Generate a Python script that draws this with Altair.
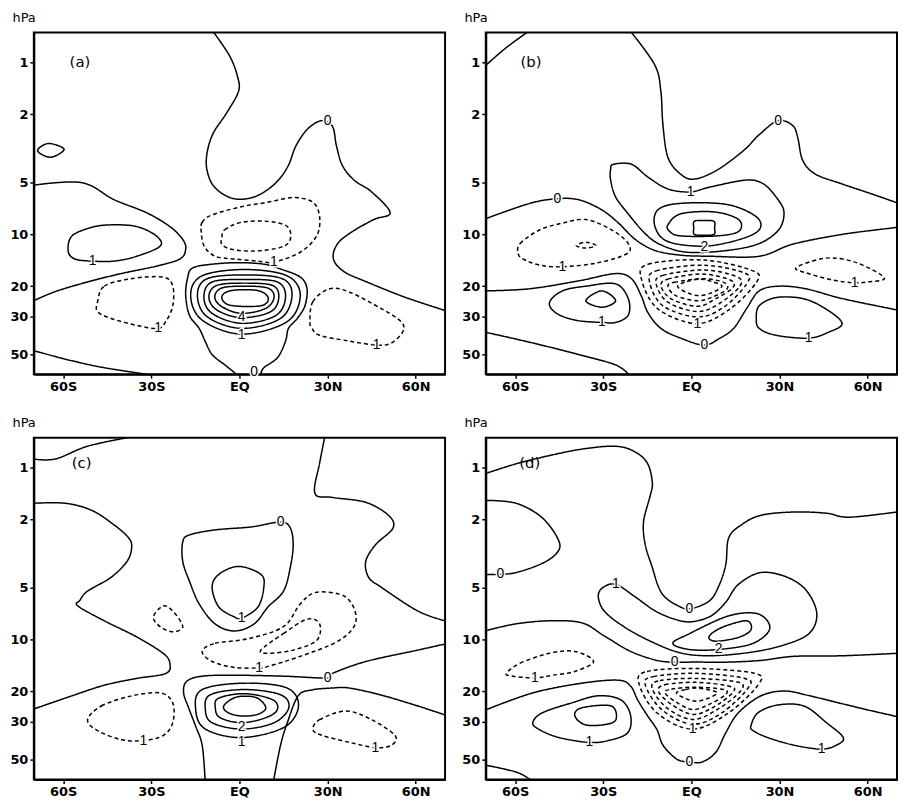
import altair as alt
import pandas as pd

LAT_DOMAIN = [-70, 70]
P_DOMAIN = [0.67, 65]
LAT_TICKS = [-60, -30, 0, 30, 60]
P_TICKS = [1, 2, 5, 10, 20, 30, 50]

# ---------------- panel (a) : contour paths (lat, hPa) ----------------
a_zero_top = [(-8.7, 0.67), (-3.3, 0.92), (-0.7, 1.20), (-0.3, 1.47), (-4.3, 1.96), (-9.3, 2.66),
              (-11.3, 3.71), (-10, 4.83), (-6.7, 5.66), (-1.7, 6.21), (4, 6.13), (9, 5.58),
              (13.3, 4.83), (16.7, 3.96), (19.3, 3.04), (23.3, 2.43), (28, 2.18), (31.7, 2.36),
              (33, 3.04), (35, 3.96), (39, 4.83), (45, 5.66), (51.3, 7.47), (45.7, 8.2),
              (38, 9.74), (33.3, 11.4), (32, 13.9), (35.7, 16.5), (44, 19.1), (54, 22.4),
              (60.7, 24.6), (70, 27.7)]
a_pos_lens = [(-68.7, 3.26), (-65, 2.96), (-59.7, 3.2), (-64.3, 3.56)]
a_zero_left = [(-70, 5.17), (-53.7, 5.0), (-42.7, 6.28), (-31.7, 7.47), (-23.7, 9.0), (-19.3, 10.7),
               (-18.3, 12.2), (-20.3, 13.9), (-28.3, 15.3), (-40.3, 16.9), (-51.7, 18.9),
               (-62.7, 21.5), (-70, 24.3)]
a_pos_left = [(-57, 10.2), (-50.3, 9.1), (-43.7, 8.8), (-35, 9.0), (-28.3, 10.2), (-27, 11.7),
              (-35, 13.4), (-42.7, 14.3), (-50, 14.3), (-56, 13.9), (-58.3, 12.5)]
a_zero_bl = [(-70, 47.5), (-57, 54.3), (-46, 59.6), (-31.7, 65)]
a_neg_left = [(-48.3, 24.6), (-46, 20), (-37, 18.1), (-26, 17.7), (-22.7, 20), (-22.7, 26),
              (-25, 32), (-27.7, 35.2), (-35, 33.8), (-43.7, 30.8), (-48.3, 28.1)]
a_neg_eq1 = [(-13, 9.7), (-12.7, 8.5), (-9.3, 7.7), (0.7, 6.9), (9.7, 6.5), (18.3, 6.1), (25, 6.5),
             (27.3, 7.9), (26.3, 10.2), (20.7, 12.7), (11.7, 14.5), (6.3, 14.3), (-1.7, 13.9),
             (-8.3, 13.4), (-12, 11.7)]
a_neg_eq2 = [(-6, 10.4), (-5, 9.4), (0.7, 8.5), (9.7, 8.4), (16.3, 9.0), (17.3, 10.7), (14, 11.9),
             (5, 12.5), (-2.7, 12.2), (-6, 11.4)]
a_zero_eq = [(-1, 65), (-5, 57.3), (-9.3, 50), (-11.7, 41.7), (-13.7, 35.2), (-17, 29.6),
             (-18.3, 22.7), (-17.7, 18.1), (-16, 15.7), (-9.3, 14.9), (-0.3, 14.6), (8.3, 14.9),
             (14, 15.9), (20.7, 17.7), (23, 20.7), (22.3, 26), (19.7, 30.8), (16.7, 35.2),
             (15.7, 41.7), (13, 52), (8.3, 59.6), (7.3, 65)]
a_ring1 = [(-16.6, 22.6), (-12.7, 17.4), (1.8, 16.0), (16.2, 17.4), (20.7, 22.6), (16.2, 32.2),
           (0.7, 38.0), (-12.7, 31.5)]
a_ring2 = [(-14.3, 22.6), (-11, 18.1), (1.8, 17.2), (14.6, 18.1), (17.9, 22.6), (14, 30.8),
           (0.7, 35.2), (-11, 30.1)]
a_ring3 = [(-12.1, 23.1), (-9.3, 18.9), (1.8, 18.3), (12.9, 18.9), (15.7, 23.1), (12.3, 29.7),
           (0.7, 32.9), (-9.3, 28.8)]
a_ring4 = [(-10.4, 23.1), (-7.7, 19.8), (1.8, 19.2), (11.2, 19.8), (13.4, 23.1), (10.7, 28.1),
           (0.7, 30.5), (-7.7, 27.5)]
a_ring5 = [(-8.4, 23.1), (-6, 20.5), (1.8, 20.0), (9.6, 20.5), (11.8, 23.1), (9, 26.9),
           (0.7, 28.8), (-6, 26.3)]
a_ring6 = [(-6, 23.1), (-2.7, 21.2), (6.2, 21.2), (9.8, 23.4), (7.3, 26.0), (-3.2, 25.8)]
a_neg_right = [(24, 32.1), (25, 24.6), (30.7, 20.7), (37.3, 21.6), (48.3, 27), (55, 32.1),
               (55.7, 36.6), (51.7, 42.9), (46.7, 44), (37.3, 41.7), (27.3, 38.6), (24.7, 35.2)]

# ---------------- panel (b) ----------------
b_corner = [(-70, 1.04), (-63.4, 0.83), (-56, 0.67)]
b_zero_top = [(-20.4, 0.67), (-12.4, 1.04), (-10.4, 1.47), (-9.7, 2.30), (-8, 3.56), (-3.7, 4.46),
              (1, 4.77), (8.7, 4.23), (17.8, 3.25), (23.1, 2.63), (29.5, 2.18), (34.5, 2.33),
              (36.2, 2.73), (37.9, 3.71), (42.2, 4.46), (51.3, 5.09), (61.3, 5.81), (70, 6.55)]
b_pos1 = [(-26.5, 3.91), (-20.4, 3.91), (-14.8, 4.64), (-8, 5.44), (-0.3, 5.66), (6.4, 5.30),
          (18.8, 4.83), (24.5, 5.09), (28.8, 6.05), (31.5, 7.37), (29.8, 9.36), (23.1, 11.3),
          (12.1, 12.4), (-1.3, 12.7), (-10.4, 11.5), (-15.8, 9.87), (-21.5, 7.6), (-25.8, 6.05),
          (-27.5, 4.83), (-27.5, 4.17)]
b_pos2 = [(-12.4, 9.0), (-11.4, 7.2), (-3.7, 6.6), (12.1, 6.7), (22.1, 7.9), (23.1, 9.4),
          (16.4, 10.7), (4.4, 11.7), (-8, 11.0)]
b_pos3 = [(-7.4, 9.6), (-8, 8.8), (-3.7, 7.6), (7.7, 7.4), (16.1, 8.2), (16.1, 9.6), (8.7, 10.2),
          (-3.7, 10.2)]
b_pos4 = [(1, 8.4), (4.3, 8.3), (7.7, 8.4), (7.9, 9.2), (7.7, 10), (4.3, 10.1), (1, 10), (0.8, 9.2)]
b_zero_mid = [(-70, 8.1), (-55, 6.6), (-45.6, 6.2), (-38.2, 6.3), (-30.5, 7.2), (-24.8, 8.6),
              (-19.1, 10.7), (-12.4, 12.4), (-3.7, 13.2), (6.4, 13.4), (23.1, 13.4), (34.5, 11.4),
              (51.3, 10), (67.7, 9.2), (70, 9.1)]
b_neg_left = [(-59, 12.9), (-58.3, 11.3), (-51.6, 9.4), (-43.9, 8.6), (-35.9, 8.2), (-27.2, 9.4),
              (-21.5, 11.3), (-22.1, 13.0), (-32.5, 14.7), (-43.9, 15.4), (-51.6, 15.1),
              (-57.3, 13.9)]
b_neg_small = [(-39.2, 11.6), (-35.9, 11.1), (-32.5, 11.6), (-35.9, 12.0)]
b_neg_right = [(35.5, 15.7), (41.2, 14.3), (47.9, 13.7), (56.7, 14.7), (65.7, 17.9), (60, 18.9),
               (55.6, 19.1), (47.9, 18.4), (38.9, 16.7)]
b_zero_low = [(-70, 21.3), (-55, 20.7), (-38.2, 18.6), (-25.8, 16.9), (-20.4, 18.1), (-17.1, 22.7),
              (-14.8, 28.5), (-10.4, 35.2), (-3.7, 40.1), (4.4, 44), (9.7, 40.1), (14.4, 35.2),
              (18.8, 27), (23.1, 21.3), (29.8, 20), (38.9, 20.7), (51.3, 23.6), (67.7, 27),
              (70, 27.5)]
b_pos_ll = [(-48.3, 24.9), (-43.9, 21.3), (-35.9, 20), (-25.8, 19.4), (-21.5, 23.6), (-21.5, 29.5),
            (-25.8, 32.5), (-30.5, 32.5), (-39.2, 31.6), (-45.9, 28.8)]
b_pos_ll2 = [(-35.9, 24.3), (-30.5, 21.3), (-25.8, 24.3), (-30.5, 26.5)]
b_pos_lr = [(22.1, 30.8), (23.1, 26), (28.8, 23.3), (37.9, 23.6), (45.6, 27), (51.3, 32.9),
            (46.6, 37.1), (39.9, 40.1), (28.8, 38.6), (23.1, 35.2)]
b_zero_bl = [(-70, 37.1), (-55, 42.4), (-38.2, 50), (-25.8, 57.4), (-21.5, 65)]
b_ring1 = [(-17.0, 18.2), (-14.75, 14.9), (4.2, 14.1), (21.0, 16.3), (22.1, 19.0), (13.2, 27.1),
           (2.0, 33.0), (-11.4, 27.1)]
b_ring2 = [(-14.2, 19.0), (-12.0, 16.3), (4.2, 15.1), (18.2, 16.8), (18.8, 19.4), (11.0, 26.5),
           (2.0, 30.2), (-9.7, 26.0)]
b_ring3 = [(-12.0, 19.4), (-9.7, 17.3), (4.2, 16.1), (15.4, 17.6), (16.5, 20.0), (9.3, 25.4),
           (2.0, 28.1), (-8.0, 24.8)]
b_ring4 = [(-10.3, 20.0), (-8.0, 18.2), (3.7, 17.0), (13.2, 18.4), (14.1, 20.4), (8.2, 23.7),
           (2.0, 26.2), (-6.9, 23.7)]
b_ring5 = [(-8.0, 20.0), (-5.8, 19.0), (3.7, 18.1), (11.0, 19.0), (12.1, 20.8), (7.0, 23.2),
           (2.0, 24.3), (-5.3, 22.7)]
b_ring6 = [(-4.7, 20.0), (-1.5, 18.8), (3.1, 18.2), (7, 18.8), (10.4, 20.0), (7, 21.8),
           (2.6, 22.7), (-1.5, 21.8)]

# ---------------- panel (c) ----------------
c_corner = [(-70, 0.89), (-62.7, 0.89), (-51.7, 0.75), (-38.3, 0.67)]
c_left = [(-70, 1.61), (-59.3, 1.61), (-50.3, 1.77), (-42.7, 2.15), (-37.7, 2.56), (-36.7, 2.92),
          (-38.3, 3.51), (-43.7, 4.34), (-51.7, 5.22), (-54.3, 5.9), (-55, 6.37), (-46, 7.77),
          (-35, 9.63), (-26, 12.0), (-23.7, 13.7), (-25, 15.7), (-35, 16.8), (-46, 18.4),
          (-57, 21.2), (-70, 25.3)]
c_right_top = [(29, 0.67), (27.3, 0.94), (25.7, 1.41), (31.7, 1.49), (43, 1.59), (50.7, 1.89),
               (52.3, 2.24), (46.3, 2.81), (43, 3.51), (44, 4.34), (48.3, 4.96), (60.7, 6.81),
               (70, 7.77)]
c_zero_loop = [(-19.3, 2.70), (-17, 2.46), (-8.3, 2.30), (4, 2.21), (14, 2.07), (17.3, 2.24),
               (18.3, 2.81), (17.3, 3.81), (15, 5.22), (9.7, 6.46), (5, 8.1), (-1.7, 8.9),
               (-8.3, 8.1), (-13.7, 6.2), (-17, 4.58), (-19.3, 3.51)]
c_pos1 = [(-9.3, 4.96), (-7, 6.46), (-1.7, 7.38), (0.7, 7.5), (6.3, 6.46), (8.3, 4.96),
          (7.3, 4.17), (-0.3, 3.75), (-7, 4.17)]
c_neg_small = [(-29.3, 7.38), (-26, 6.37), (-22.7, 6.81), (-19.3, 8.4), (-22.7, 9.0), (-27, 8.4)]
c_neg1 = [(-12.7, 11.7), (-8.3, 10.5), (3, 9.87), (15, 8.4), (20.7, 6.2), (26.3, 5.3),
          (36.3, 5.66), (39.7, 7.77), (34, 10.1), (20.7, 12.5), (9.7, 14.3), (6.7, 14.6),
          (-1.7, 14.5), (-9.3, 13.4)]
c_neg2 = [(7.3, 11.5), (15, 9.2), (23, 7.6), (27.3, 8.1), (26.3, 10.1), (18.3, 11.5), (9.7, 12.0)]
c_zero_a = [(70, 10.6), (60.7, 11.5), (43, 13.4), (31.7, 15.7), (30, 16.7), (15, 16.3),
            (-1.7, 16.1), (-12.7, 16.3), (-18, 17.5), (-19, 20.4), (-17.3, 24.9), (-15, 31.6),
            (-12.7, 41), (-11.7, 65)]
c_zero_b = [(11.7, 65), (14, 41), (16.3, 30.4), (20, 21.2), (24.7, 19.6), (31.7, 19.1),
            (37.3, 19.1), (48.3, 21.0), (60.7, 24.3), (70, 27.4)]
c_ring1 = [(-14.9, 25.5), (-12.7, 19.5), (1.8, 17.9), (16.2, 19.1), (20.1, 24.4), (15.1, 32.4),
           (0.7, 37.1), (-11.6, 33.1)]
c_ring2 = [(-11.6, 25.5), (-9.9, 20.9), (1.8, 19.5), (14.0, 20.9), (16.8, 24.9), (11.8, 30.4),
           (0.7, 33.1), (-9.3, 30.4)]
c_ring3 = [(-8.2, 24.9), (-7.1, 21.9), (1.8, 20.6), (11.2, 22.3), (12.9, 25.5), (9.0, 28.4),
           (0.7, 30.4), (-6.6, 28.4)]
c_ring4 = [(-5.4, 24.4), (-2.1, 21.9), (1.8, 21.3), (6.2, 21.9), (9.0, 24.9), (6.2, 27.2),
           (0.7, 27.8), (-3.8, 26.6)]
c_neg_ll = [(-51.7, 29.2), (-47, 24.3), (-37, 21.3), (-27, 20.4), (-22.7, 23.3), (-22.7, 30.4),
            (-26, 36.1), (-32.7, 38.6), (-40.3, 38.1), (-48.3, 33.8)]
c_neg_lr = [(25, 33.4), (27.3, 29.2), (36.3, 26), (45, 29.2), (53, 36.1), (51.7, 41.1),
            (46.3, 42.4), (37.3, 39.5), (28.3, 36.1)]

# ---------------- panel (d) ----------------
d_zero_top = [(-70, 1.08), (-59.7, 0.95), (-48.3, 0.85), (-37.3, 0.78), (-26.3, 0.75), (-19.7, 0.80),
              (-15, 0.94), (-13.3, 1.22), (-14, 1.45), (-16.3, 2.07), (-15.7, 2.81), (-13.3, 3.81),
              (-11.3, 4.89), (-9, 5.66), (-5, 6.29), (-0.7, 6.62), (6, 5.97), (9.3, 4.89),
              (11.7, 3.66), (12.7, 2.56), (17, 2.15), (23.7, 1.89), (35, 1.81), (46, 1.84),
              (53.7, 1.94), (70, 1.81)]
d_zero_left = [(-70, 1.55), (-59.7, 1.61), (-50.7, 1.96), (-45, 2.70), (-46.3, 3.20), (-51.7, 3.66),
               (-59.7, 4.07), (-65, 4.17), (-70, 4.17)]
d_pos1 = [(-25.7, 4.77), (-19, 5.66), (-12.3, 6.81), (-5.7, 7.6), (0, 7.87), (6.7, 7.27),
          (11.7, 6.05), (16, 4.77), (23.7, 4.07), (32.7, 4.34), (39.3, 5.22), (42.7, 7.08),
          (40, 9.23), (31, 10.8), (19.3, 11.9), (6, 12.4), (-4, 11.9), (-14, 10.2), (-23, 8.4),
          (-29.7, 6.81), (-31.7, 5.58), (-30, 4.96)]
d_pos2 = [(-6.3, 10.5), (-0.7, 9.23), (12.7, 7.27), (22.7, 7.08), (26.7, 8.6), (21, 10.5),
          (9.3, 11.4), (-0.7, 11.4)]
d_pos3 = [(6, 9.6), (10.3, 8.5), (18.7, 7.77), (20.3, 8.76), (16, 9.7), (8.3, 10.2)]
d_zero_mid = [(-70, 8.87), (-59.7, 8.09), (-48.3, 7.77), (-37.3, 7.98), (-29.7, 9.5), (-20.7, 11.7),
              (-11.7, 13.2), (-5.7, 13.5), (1.7, 13.5), (12.7, 13.5), (23.7, 13.2), (35, 12.5),
              (51.7, 12.4), (70, 12.0)]
d_neg_left = [(-63, 15.7), (-58.3, 13.7), (-48.3, 12.0), (-39.7, 11.7), (-33.3, 13.4), (-39.7, 15.3),
              (-47.3, 16.1), (-53.3, 16.7), (-60.7, 16.3)]
d_ring1 = [(-17.9, 17.9), (-15.1, 15.3), (1.6, 14.7), (21.6, 15.7), (22.7, 18.3), (12.7, 26.6),
           (0.4, 33.1), (-11.8, 26.6)]
d_ring2 = [(-15.7, 18.3), (-12.9, 16.4), (1.6, 15.7), (18.2, 16.8), (19.3, 19.1), (10.4, 26.6),
           (0.4, 31.0), (-10.1, 25.5)]
d_ring3 = [(-13.4, 19.1), (-10.7, 17.3), (1.6, 16.8), (16.0, 17.7), (16.6, 20.0), (8.8, 25.5),
           (0.4, 29.1), (-8.4, 24.9)]
d_ring4 = [(-11.2, 20.0), (-9.0, 18.3), (1.6, 17.7), (13.2, 18.7), (14.0, 20.4), (7.1, 24.9),
           (0.4, 27.2), (-6.8, 23.8)]
d_ring5 = [(-9.0, 20.4), (-6.8, 19.4), (1.6, 18.9), (11.0, 19.5), (11.6, 20.9), (6.0, 23.8),
           (0.4, 25.5), (-5.1, 23.1)]
d_ring6 = [(-5.1, 20.4), (-2, 19.5), (1.6, 19.1), (5.5, 19.5), (8.8, 20.4), (5.5, 22),
           (1.6, 22.8), (-2, 22)]
d_zero_low = [(-70, 25.6), (-54, 20.4), (-37.3, 17.9), (-25, 17.2), (-20.7, 18.6), (-18.3, 22.4),
              (-15, 27.6), (-11.7, 33.4), (-9.7, 41), (-5, 49.5), (-0.7, 51.4), (3.7, 51.4),
              (8.3, 45.2), (11.7, 34.8), (16, 26.6), (23.7, 21.2), (31.7, 19.9), (40.3, 21.2),
              (57, 24.9), (70, 28)]
d_pos_ll = [(-54, 30.4), (-50.7, 26.6), (-40.7, 23.3), (-31.7, 21.2), (-24, 22.4), (-20.7, 27.6),
            (-21.7, 34.8), (-28.3, 38.6), (-34.7, 39.6), (-45, 37.1), (-51.7, 33.4)]
d_pos_ll2 = [(-39.7, 27.6), (-37.3, 24.9), (-27.3, 24.3), (-25.7, 29.2), (-29.7, 31.2), (-36.3, 31.2)]
d_pos_lr = [(20.3, 31.6), (22.7, 26.6), (29.3, 24.0), (38.3, 24.3), (46, 30.4), (51.7, 37.1),
            (49.3, 41.1), (44.3, 43.3), (35, 41.1), (26, 37.1), (21, 33.8)]
d_zero_bl = [(-70, 53.7), (-59.7, 58.8), (-55, 65)]

# (contour value, closed?, path)
PANELS = {
    "a": [(0, False, a_zero_top), (1, True, a_pos_lens), (0, False, a_zero_left),
          (1, True, a_pos_left), (0, False, a_zero_bl), (-1, True, a_neg_left),
          (-1, True, a_neg_eq1), (-2, True, a_neg_eq2), (0, False, a_zero_eq),
          (1, True, a_ring1), (2, True, a_ring2), (3, True, a_ring3), (4, True, a_ring4),
          (5, True, a_ring5), (6, True, a_ring6), (-1, True, a_neg_right)],
    "b": [(0, False, b_corner), (0, False, b_zero_top), (1, True, b_pos1), (2, True, b_pos2),
          (3, True, b_pos3), (4, True, b_pos4), (0, False, b_zero_mid), (-1, True, b_neg_left),
          (-2, True, b_neg_small), (-1, True, b_neg_right), (0, False, b_zero_low),
          (1, True, b_pos_ll), (2, True, b_pos_ll2), (1, True, b_pos_lr), (0, False, b_zero_bl),
          (-1, True, b_ring1), (-2, True, b_ring2), (-3, True, b_ring3), (-4, True, b_ring4),
          (-5, True, b_ring5), (-6, True, b_ring6)],
    "c": [(0, False, c_corner), (0, False, c_left), (0, False, c_right_top), (0, True, c_zero_loop),
          (1, True, c_pos1), (-1, True, c_neg_small), (-1, True, c_neg1), (-2, True, c_neg2),
          (0, False, c_zero_a), (0, False, c_zero_b), (1, True, c_ring1), (2, True, c_ring2),
          (3, True, c_ring3), (4, True, c_ring4), (-1, True, c_neg_ll), (-1, True, c_neg_lr)],
    "d": [(0, False, d_zero_top), (0, False, d_zero_left), (1, True, d_pos1), (2, True, d_pos2),
          (3, True, d_pos3), (0, False, d_zero_mid), (-1, True, d_neg_left),
          (-1, True, d_ring1), (-2, True, d_ring2), (-3, True, d_ring3), (-4, True, d_ring4),
          (-5, True, d_ring5), (-6, True, d_ring6), (0, False, d_zero_low), (1, True, d_pos_ll),
          (2, True, d_pos_ll2), (1, True, d_pos_lr), (0, False, d_zero_bl)],
}

LABELS = {
    "a": [(30, 2.2, "0"), (-50, 14.3, "1"), (11.7, 14.5, "1"), (-27.7, 35.2, "1"),
          (0.7, 30.2, "4"), (0.7, 38.6, "1"), (5, 63, "0"), (46.7, 44, "1")],
    "b": [(29.5, 2.18, "0"), (-45.6, 6.2, "0"), (-0.3, 5.66, "1"), (4.4, 11.8, "2"),
          (-43.9, 15.4, "1"), (55.6, 19.1, "1"), (-30.5, 32.5, "1"), (39.9, 40.1, "1"),
          (2.0, 33.0, "1"), (4.4, 44, "0")],
    "c": [(14, 2.07, "0"), (0.7, 7.5, "1"), (6.7, 14.6, "1"), (30, 16.7, "0"), (0.7, 32.0, "2"),
          (0.7, 39.6, "1"), (-32.7, 38.6, "1"), (46.3, 42.4, "1")],
    "d": [(-65, 4.17, "0"), (-25.7, 4.77, "1"), (-0.7, 6.62, "0"), (9.3, 11.4, "2"),
          (-5.7, 13.5, "0"), (-53.3, 16.7, "1"), (0.4, 33.0, "1"), (-34.7, 39.6, "1"),
          (44.3, 43.3, "1"), (-0.7, 51.4, "0")],
}

TAGS = {"a": (-54.3, 1.0, "(a)"), "b": (-54.6, 1.0, "(b)"), "c": (-53.7, 0.94, "(c)"),
        "d": (-55, 0.94, "(d)")}

W, H = 414, 344

x_enc = alt.X("lat:Q", scale=alt.Scale(domain=LAT_DOMAIN, nice=False, zero=False),
              axis=alt.Axis(values=LAT_TICKS, title=None,
                            labelExpr="datum.value == 0 ? 'EQ' : (datum.value < 0 ? (-datum.value) + 'S' : datum.value + 'N')"))
y_enc = alt.Y("p:Q", scale=alt.Scale(type="log", domain=P_DOMAIN, reverse=True, nice=False),
              axis=alt.Axis(values=P_TICKS, title="hPa", titleAngle=0, titleX=-22, titleY=-15,
                            titleAlign="left", titleBaseline="middle", labelOverlap=False))
dash = alt.StrokeDash("style:N", scale=alt.Scale(domain=["solid", "dashed"], range=[[1, 0], [4, 3]]),
                      legend=None)


def make_panel(key):
    rows_open, rows_closed = [], []
    for k, (level, closed, pts) in enumerate(PANELS[key]):
        for i, (lat, p) in enumerate(pts):
            row = {"cid": f"{key}{k}", "i": i, "lat": lat, "p": p,
                   "style": "dashed" if level < 0 else "solid"}
            (rows_closed if closed else rows_open).append(row)
    labs = pd.DataFrame([{"lat": a, "p": b, "text": t} for a, b, t in LABELS[key]])
    tag = pd.DataFrame([{"lat": TAGS[key][0], "p": TAGS[key][1], "text": TAGS[key][2]}])

    open_l = alt.Chart(pd.DataFrame(rows_open)).mark_line(
        interpolate="cardinal", color="black", strokeWidth=1.5, clip=True
    ).encode(x=x_enc, y=y_enc, detail="cid:N", order="i:Q", strokeDash=dash)
    closed_l = alt.Chart(pd.DataFrame(rows_closed)).mark_line(
        interpolate="cardinal-closed", color="black", strokeWidth=1.5, clip=True
    ).encode(x=x_enc, y=y_enc, detail="cid:N", order="i:Q", strokeDash=dash)
    halo = alt.Chart(labs).mark_text(
        font="Liberation Sans", fontSize=14, fill="white", stroke="white", strokeWidth=3
    ).encode(x=x_enc, y=y_enc, text="text:N")
    txt = alt.Chart(labs).mark_text(
        font="Liberation Sans", fontSize=14, color="black"
    ).encode(x=x_enc, y=y_enc, text="text:N")
    tg = alt.Chart(tag).mark_text(
        font="DejaVu Sans", fontSize=15, color="black"
    ).encode(x=x_enc, y=y_enc, text="text:N")
    return alt.layer(open_l, closed_l, halo, txt, tg).properties(width=W, height=H)


row1 = alt.hconcat(make_panel("a"), make_panel("b"), spacing=14)
row2 = alt.hconcat(make_panel("c"), make_panel("d"), spacing=14)

chart = alt.vconcat(row1, row2, spacing=22).properties(
    padding={"left": 0, "top": 0, "right": 0, "bottom": 0}
).configure_view(
    stroke="black", strokeWidth=2
).configure_axis(
    domainColor="black", domainWidth=2, tickColor="black", tickWidth=1.5, tickSize=4,
    labelPadding=2, labelFont="DejaVu Sans", labelFontWeight="bold", labelFontSize=13,
    labelColor="black", grid=False, titleFont="DejaVu Sans", titleFontSize=13,
    titleFontWeight="normal", titleColor="black"
)

chart.save("out.html", embed_options={"renderer": "svg", "actions": False})
